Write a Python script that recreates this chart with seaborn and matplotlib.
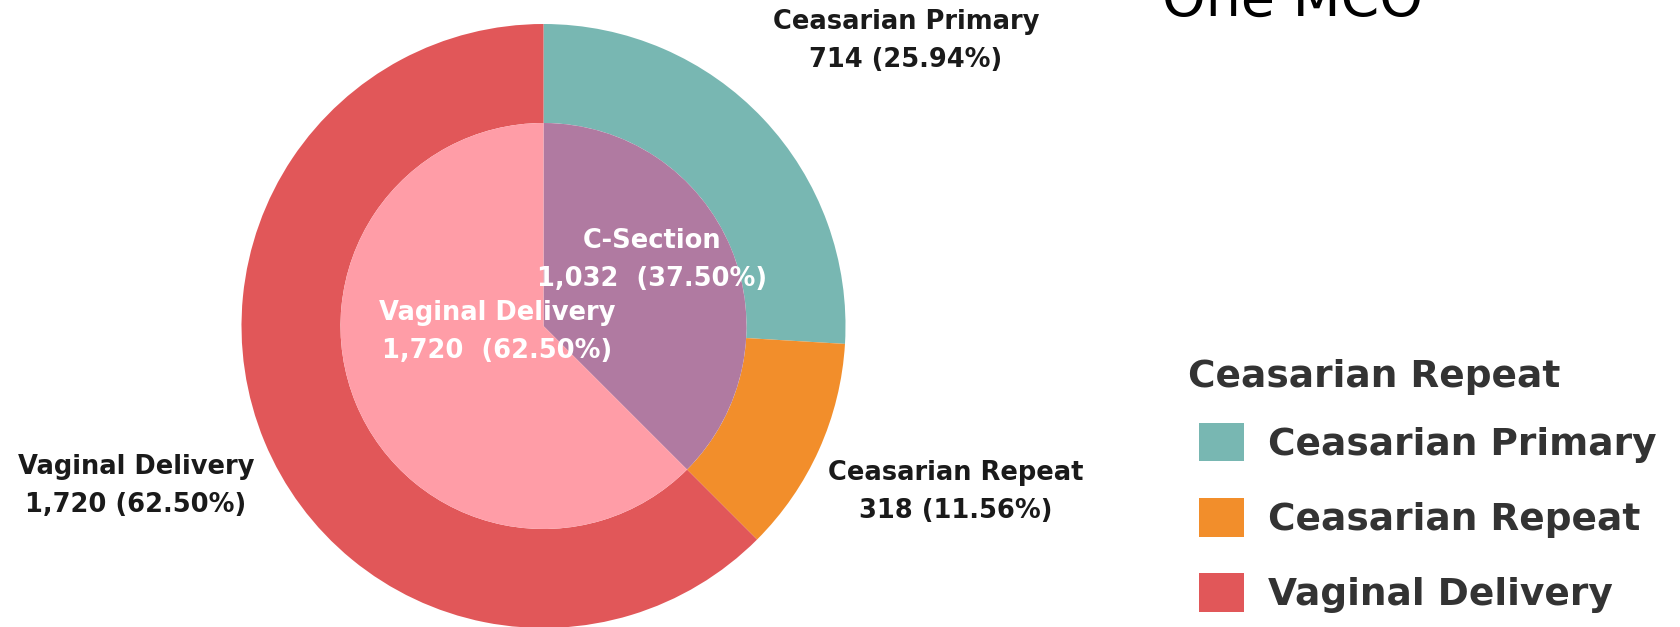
import matplotlib
matplotlib.use("Agg")
import matplotlib.pyplot as plt
import seaborn as sns

# ---- data ----
outer_labels = ["Ceasarian Primary", "Ceasarian Repeat", "Vaginal Delivery"]
outer_values = [714, 318, 1720]
outer_pcts = ["25.94%", "11.56%", "62.50%"]
inner_labels = ["C-Section", "Vaginal Delivery"]
inner_values = [1032, 1720]
inner_pcts = ["37.50%", "62.50%"]
legend_title = "Ceasarian Repeat"
title_text = "One MCO"

outer_colors = ["#78B7B2", "#F28E2B", "#E15759"]
inner_colors = ["#B07AA1", "#FF9DA7"]

sns.set_theme(style="white")
plt.rcParams['font.family'] = ['DejaVu Sans']

W, H = 1681, 627
fig = plt.figure(figsize=(W / 100, H / 100), dpi=100)
ax = fig.add_axes([0, 0, 1, 1])

def py(y):
    return H - y

cx, cy = 543.5, py(326)
R_out, R_in = 302, 203

outer_wedges, _ = ax.pie(outer_values, colors=outer_colors, radius=R_out, center=(cx, cy),
                         startangle=90, counterclock=False,
                         wedgeprops=dict(width=R_out - R_in, linewidth=0))
ax.pie(inner_values, colors=inner_colors, radius=R_in, center=(cx, cy),
       startangle=90, counterclock=False, wedgeprops=dict(linewidth=0))
ax.set_xlim(0, W)
ax.set_ylim(0, H)
ax.set_aspect('auto')
ax.axis('off')

fs = 18.5
dark = "#1a1a1a"
outer_pos = [(906, 41), (956, 492), (136, 486)]
for lab, v, p, (x, y) in zip(outer_labels, outer_values, outer_pcts, outer_pos):
    ax.text(x, py(y), f"{lab}\n{v:,} ({p})", ha="center", va="center",
            fontsize=fs, fontweight="bold", color=dark, linespacing=1.6)

inner_pos = [(652, 260), (497, 332)]
for lab, v, p, (x, y) in zip(inner_labels, inner_values, inner_pcts, inner_pos):
    ax.text(x, py(y), f"{lab}\n{v:,}  ({p})", ha="center", va="center",
            fontsize=fs, fontweight="bold", color="white", linespacing=1.6)

ax.text(1162, py(16), title_text, ha="left", va="baseline", fontsize=40, color="black")

ax.text(1188, py(377), legend_title, ha="left", va="center", fontsize=27,
        fontweight="bold", color="#333333")

leg = ax.legend(outer_wedges, outer_labels,
                loc="upper left", bbox_to_anchor=(1199 / W, 1 - 423 / H),
                bbox_transform=fig.transFigure, frameon=False,
                prop=dict(size=27, weight="bold"),
                handlelength=1.2, handleheight=1.2, handletextpad=0.63,
                labelspacing=0.94, borderaxespad=0, borderpad=0)
for t in leg.get_texts():
    t.set_color("#333333")

fig.savefig("out.png", dpi=100)
